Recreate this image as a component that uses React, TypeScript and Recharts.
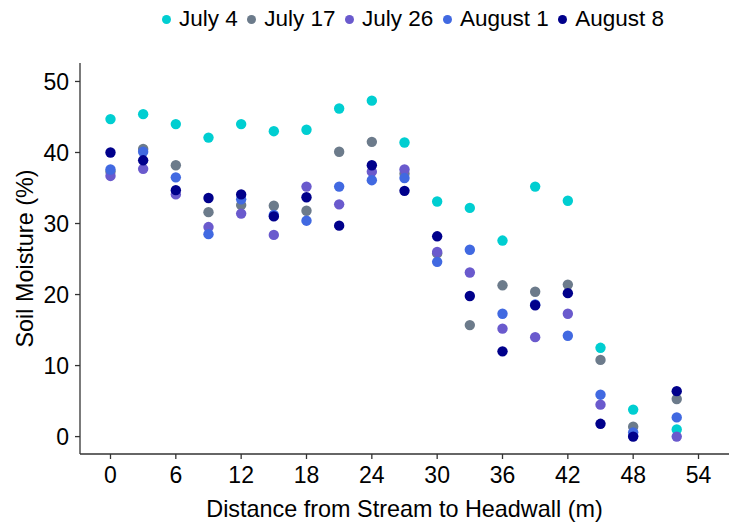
import { ScatterChart, Scatter, XAxis, YAxis } from "recharts"

const distance = [0, 3, 6, 9, 12, 15, 18, 21, 24, 27, 30, 33, 36, 39, 42, 45, 48, 52]
const july4 = [44.7, 45.4, 44.0, 42.1, 44.0, 43.0, 43.2, 46.2, 47.3, 41.4, 33.1, 32.2, 27.6, 35.2, 33.2, 12.5, 3.8, 1.0]
const july17 = [37.3, 40.5, 38.2, 31.6, 32.6, 32.5, 31.8, 40.1, 41.5, 37.0, 25.8, 15.7, 21.3, 20.4, 21.4, 10.8, 1.4, 5.3]
const july26 = [36.7, 37.7, 34.1, 29.5, 31.4, 28.4, 35.2, 32.7, 37.3, 37.6, 26.0, 23.1, 15.2, 14.0, 17.3, 4.5, 0.1, 0.0]
const august1 = [37.6, 40.1, 36.5, 28.5, 33.4, 31.2, 30.4, 35.2, 36.1, 36.4, 24.6, 26.3, 17.3, 18.6, 14.2, 5.9, 0.6, 2.7]
const august8 = [40.0, 38.9, 34.7, 33.6, 34.1, 31.0, 33.7, 29.7, 38.2, 34.6, 28.2, 19.8, 12.0, 18.5, 20.2, 1.8, 0.0, 6.4]

const xTicks = [0, 6, 12, 18, 24, 30, 36, 42, 48, 54]
const yTicks = [0, 10, 20, 30, 40, 50]

const series = [
  { name: "July 4", values: july4, color: "#00CED1" },
  { name: "July 17", values: july17, color: "#6C7B8B" },
  { name: "July 26", values: july26, color: "#6A5ACD" },
  { name: "August 1", values: august1, color: "#4169E1" },
  { name: "August 8", values: august8, color: "#00008B" },
]

const font = '"Liberation Sans", Arial, sans-serif'
const tickStyle = { fontSize: 23, fill: "#000", fontFamily: font }

function Dot(props: any) {
  const { cx, cy, fill } = props
  if (cx == null || cy == null) return null
  return <circle cx={cx} cy={cy} r={5.2} fill={fill} />
}

export default function App() {
  return (
    <div style={{ position: "relative", width: 729, height: 523, fontFamily: font }}>
      <style>{`body{margin:0}`}</style>
      <div
        style={{
          position: "absolute",
          left: 162,
          top: 6,
          display: "flex",
          alignItems: "center",
          fontSize: 22.5,
          color: "#000",
          whiteSpace: "nowrap",
        }}
      >
        {series.map((s) => (
          <div key={s.name} style={{ display: "flex", alignItems: "center", marginRight: 9.5 }}>
            <span
              style={{
                width: 9,
                height: 9,
                borderRadius: "50%",
                background: s.color,
                display: "inline-block",
                marginRight: 8,
              }}
            />
            <span>{s.name}</span>
          </div>
        ))}
      </div>
      <ScatterChart width={729} height={523} margin={{ top: 63, right: 0, bottom: 0, left: 0 }}>
        <XAxis
          type="number"
          dataKey="x"
          domain={[-2.8, 56.8]}
          ticks={xTicks}
          allowDataOverflow
          height={69}
          tickSize={5}
          tickMargin={8}
          tick={tickStyle}
          axisLine={{ stroke: "#333", strokeWidth: 1.3 }}
          tickLine={{ stroke: "#333", strokeWidth: 1.3 }}
          label={{
            value: "Distance from Stream to Headwall (m)",
            position: "insideBottom",
            offset: 6,
            style: { fontSize: 23.4, fill: "#000", fontFamily: font },
          }}
        />
        <YAxis
          type="number"
          dataKey="y"
          domain={[-2.45, 52.6]}
          ticks={yTicks}
          allowDataOverflow
          width={80}
          tickSize={5}
          tickMargin={6}
          tick={tickStyle}
          axisLine={{ stroke: "#333", strokeWidth: 1.3 }}
          tickLine={{ stroke: "#333", strokeWidth: 1.3 }}
          label={{
            value: "Soil Moisture (%)",
            angle: -90,
            position: "insideLeft",
            offset: 25,
            style: { fontSize: 23.4, fill: "#000", fontFamily: font, textAnchor: "middle" },
          }}
        />
        {series.map((s) => (
          <Scatter
            key={s.name}
            name={s.name}
            data={distance.map((d, i) => ({ x: d, y: s.values[i] }))}
            fill={s.color}
            shape={<Dot />}
            isAnimationActive={false}
          />
        ))}
      </ScatterChart>
    </div>
  )
}
